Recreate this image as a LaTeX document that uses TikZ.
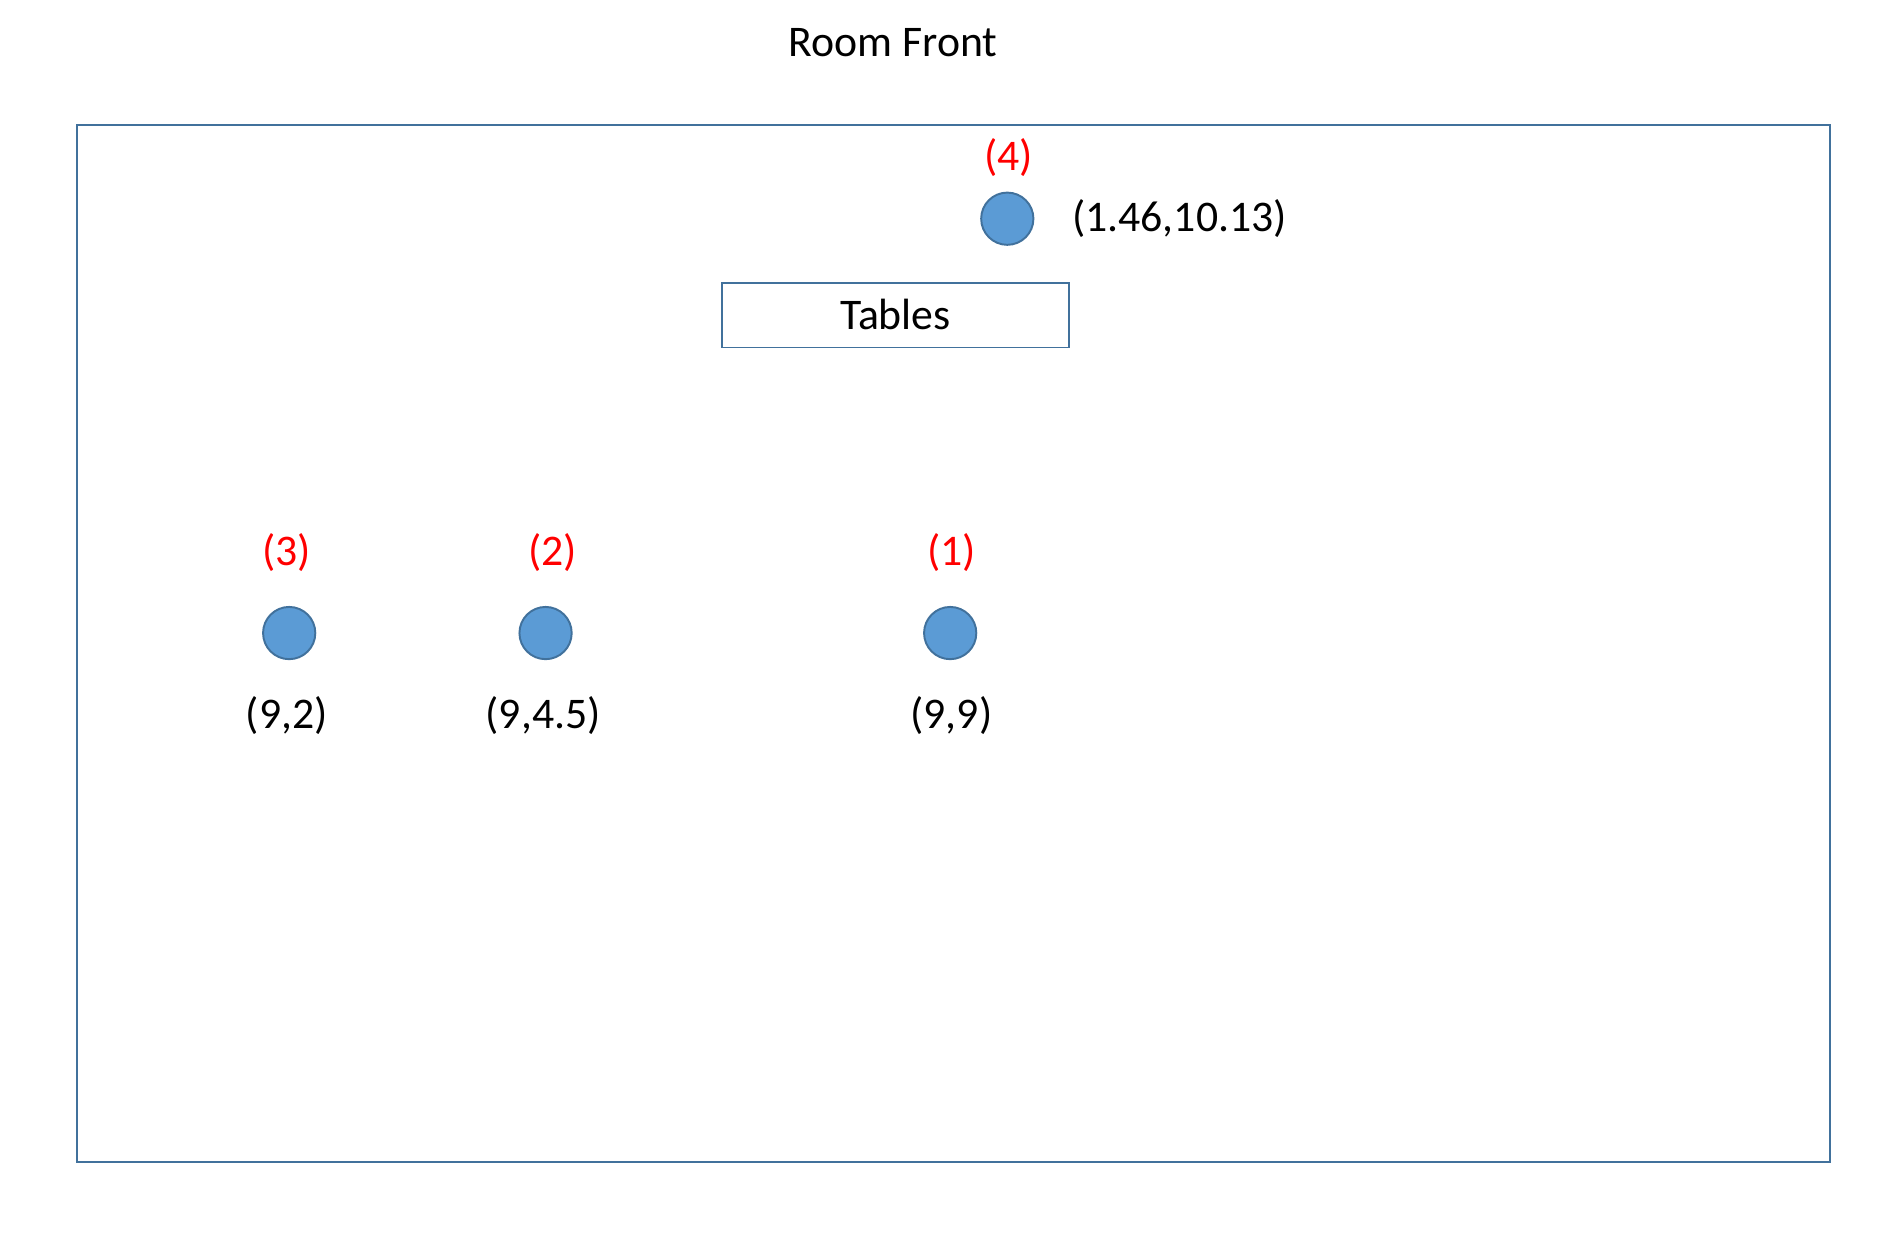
\documentclass[tikz,border=0pt]{standalone}
\usepackage{fontspec}
\setmainfont{Carlito}
\definecolor{edgeblue}{HTML}{41719C}
\definecolor{dotblue}{HTML}{5B9BD5}
\definecolor{labred}{HTML}{FF0000}
\begin{document}
\begin{tikzpicture}[x=0.5pt,y=-0.5pt,
  txt/.style={inner sep=0pt,font=\fontsize{18}{21}\selectfont},
  redlab/.style={txt,text=labred},
  dot/.style={circle,draw=edgeblue,fill=dotblue,line width=0.8pt,minimum size=21.5pt,inner sep=0pt},
  boxline/.style={draw=edgeblue,line width=0.8pt}]
\useasboundingbox (0,0) rectangle (1567,1027.1);
\node[txt] (title) at (735,35) {Room Front};
\node[boxline,minimum width=721.5pt,minimum height=426.5pt,inner sep=0pt] (room) at (784.5,529.5) {};
\node[boxline,minimum width=143pt,minimum height=26.5pt,inner sep=0pt] (tables) at (737,259.5) {};
\node[txt] (tablestxt) at (737,259) {Tables};
\node[dot] (p4) at (829,180) {};
\node[redlab] (l4) at (830,130) {(4)};
\node[txt,anchor=west] (c4) at (882,180) {(1.46,10.13)};
\node[dot] (p3) at (238,521) {};
\node[dot] (p2) at (449,521) {};
\node[dot] (p1) at (782,521) {};
\node[redlab] (l3) at (236,455) {(3)};
\node[redlab] (l2) at (455,455) {(2)};
\node[redlab] (l1) at (783,455) {(1)};
\node[txt] (c3) at (236,589) {(9,2)};
\node[txt] (c2) at (447,589) {(9,4.5)};
\node[txt] (c1) at (783,589) {(9,9)};
\end{tikzpicture}
\end{document}
